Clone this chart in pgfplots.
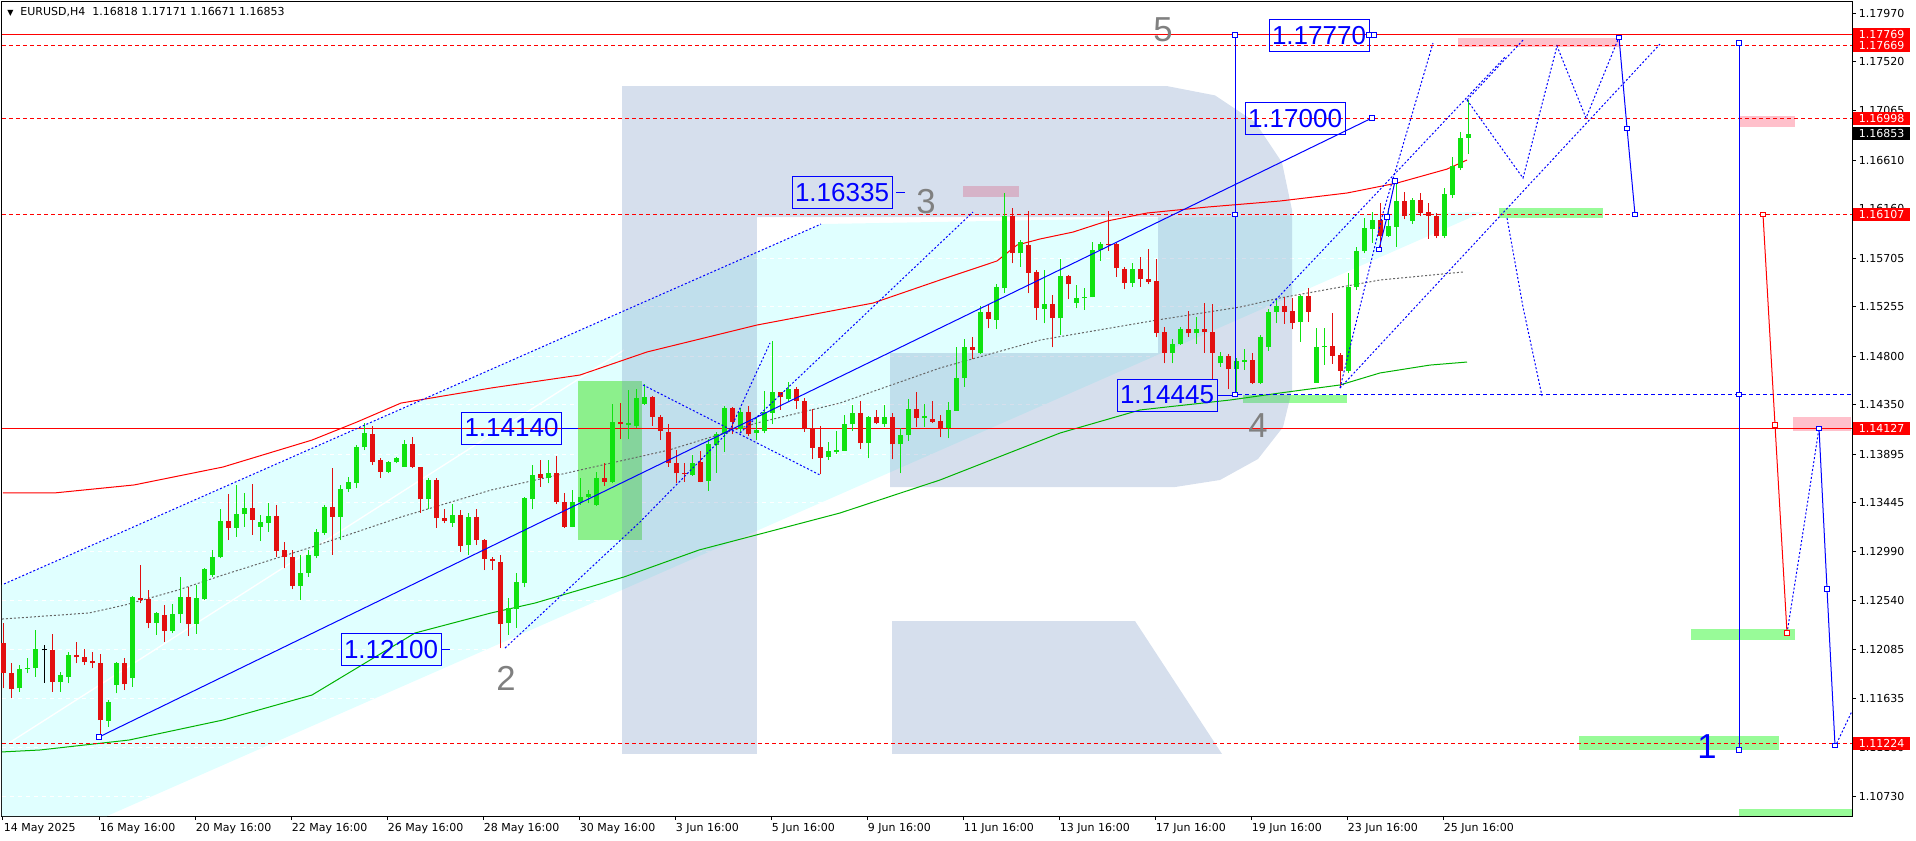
\documentclass[border=0pt]{standalone}
\usepackage{fontspec}
\setmainfont{DejaVu Sans}
\newfontfamily\lib{Liberation Sans}
\usepackage{pgfplots}
\usepackage{pgfplotstable}
\pgfplotsset{compat=1.18}
\definecolor{cyanf}{RGB}{224,255,255}
\definecolor{logoc}{RGB}{120,150,195}
\definecolor{cg}{RGB}{16,226,16}
\definecolor{cr}{RGB}{226,16,16}
\definecolor{pinkc}{RGB}{255,192,203}
\definecolor{pgreen}{RGB}{152,251,152}
\definecolor{lgreen}{RGB}{140,240,140}
\definecolor{wgrey}{RGB}{128,128,128}
\newcommand\tf{\fontsize{8.25}{9.9}\selectfont}

\pgfplotstableread{
i o h l c
2 1.11730 1.11945 1.11699 1.11905
3 1.11905 1.12007 1.11868 1.11915
4 1.11915 1.12269 1.11838 1.12090
7 1.11791 1.11884 1.11699 1.11853
8 1.11838 1.12069 1.11776 1.12038
13 1.11431 1.11622 1.11376 1.11607
14 1.11761 1.11976 1.11684 1.11961
16 1.11822 1.12586 1.11745 1.12577
19 1.12337 1.12438 1.12223 1.12423
21 1.12263 1.12509 1.12238 1.12414
22 1.12414 1.12762 1.12337 1.12571
24 1.12324 1.12685 1.12232 1.12561
25 1.12552 1.12839 1.12546 1.12829
26 1.12777 1.13008 1.12762 1.12940
27 1.12940 1.13384 1.12931 1.13276
29 1.13214 1.13609 1.13131 1.13338
30 1.13338 1.13532 1.13224 1.13393
32 1.13224 1.13331 1.13091 1.13264
33 1.13261 1.13439 1.13177 1.13325
37 1.12675 1.12962 1.12546 1.12799
38 1.12799 1.13008 1.12762 1.12962
39 1.12953 1.13205 1.12931 1.13177
40 1.13168 1.13424 1.13147 1.13408
42 1.13316 1.13609 1.13100 1.13569
43 1.13569 1.13686 1.13547 1.13639
44 1.13630 1.13978 1.13578 1.13963
45 1.13957 1.14178 1.13932 1.14086
48 1.13732 1.13833 1.13716 1.13818
49 1.13818 1.13870 1.13809 1.13861
50 1.13778 1.14024 1.13778 1.13984
53 1.13476 1.13676 1.13384 1.13655
56 1.13261 1.13433 1.13224 1.13331
58 1.13054 1.13347 1.12962 1.13316
63 1.12330 1.12561 1.12223 1.12469
64 1.12466 1.12792 1.12290 1.12709
65 1.12706 1.13501 1.12663 1.13485
66 1.13479 1.13793 1.13384 1.13701
68 1.13670 1.13840 1.13624 1.13716
71 1.13224 1.13562 1.13217 1.13448
72 1.13448 1.13670 1.13424 1.13501
73 1.13501 1.13562 1.13439 1.13525
74 1.13424 1.13732 1.13415 1.13670
76 1.13639 1.14357 1.13624 1.14194
78 1.14163 1.14486 1.14031 1.14178
79 1.14154 1.14493 1.14132 1.14409
80 1.14357 1.14542 1.14348 1.14419
86 1.13701 1.13886 1.13692 1.13809
88 1.13649 1.14031 1.13557 1.13988
89 1.13979 1.14102 1.13723 1.14080
90 1.14080 1.14339 1.13917 1.14323
92 1.14126 1.14317 1.14092 1.14280
94 1.14092 1.14240 1.14025 1.14117
95 1.14111 1.14477 1.14086 1.14280
96 1.14277 1.14939 1.14172 1.14465
98 1.14403 1.14564 1.14379 1.14496
103 1.13864 1.14009 1.13840 1.13923
104 1.13914 1.14108 1.13895 1.13932
105 1.13926 1.14256 1.13926 1.14172
106 1.14169 1.14348 1.14111 1.14271
108 1.13994 1.14246 1.13855 1.14240
110 1.14172 1.14348 1.14148 1.14240
112 1.13985 1.14132 1.13717 1.14071
113 1.14071 1.14400 1.14018 1.14308
115 1.14225 1.14357 1.14148 1.14246
118 1.14139 1.14373 1.14040 1.14302
119 1.14296 1.14881 1.14296 1.14595
120 1.14595 1.14958 1.14518 1.14881
122 1.14832 1.15263 1.14819 1.15211
124 1.15134 1.15466 1.15047 1.15442
125 1.15426 1.16310 1.15386 1.16095
127 1.15750 1.15873 1.15626 1.15857
130 1.15235 1.15596 1.15103 1.15281
132 1.15149 1.15694 1.14995 1.15540
134 1.15294 1.15457 1.15241 1.15340
135 1.15334 1.15426 1.15226 1.15349
136 1.15343 1.15857 1.15343 1.15780
137 1.15780 1.15857 1.15682 1.15836
141 1.15479 1.15657 1.15442 1.15605
146 1.14832 1.14955 1.14733 1.14912
147 1.14909 1.15072 1.14903 1.15047
149 1.15010 1.15158 1.14912 1.15050
152 1.14733 1.14841 1.14702 1.14801
154 1.14678 1.14779 1.14445 1.14755
155 1.14749 1.14863 1.14672 1.14764
157 1.14555 1.14995 1.14542 1.14980
158 1.14887 1.15232 1.14850 1.15211
159 1.15211 1.15318 1.15103 1.15266
162 1.15118 1.15365 1.14933 1.15358
164 1.14555 1.15063 1.14555 1.14881
165 1.14881 1.15057 1.14718 1.14893
168 1.14665 1.15565 1.14641 1.15435
169 1.15435 1.15811 1.15411 1.15774
170 1.15771 1.16073 1.15749 1.15987
171 1.15974 1.16128 1.15848 1.16057
173 1.15910 1.16165 1.15903 1.16005
174 1.15996 1.16412 1.15811 1.16236
176 1.16048 1.16258 1.16020 1.16242
180 1.15913 1.16350 1.15888 1.16298
181 1.16288 1.16636 1.16258 1.16556
182 1.16535 1.16874 1.16519 1.16812
183 1.16818 1.17171 1.16671 1.16853
}\greenc

\pgfplotstableread{
i o h l c
0 1.12146 1.12330 1.11730 1.11875
1 1.11875 1.11961 1.11637 1.11721
6 1.12084 1.12232 1.11699 1.11791
9 1.12038 1.12161 1.11961 1.12016
10 1.12016 1.12093 1.11945 1.11976
11 1.11982 1.12069 1.11915 1.11961
12 1.11961 1.12047 1.11283 1.11437
15 1.11961 1.12007 1.11714 1.11767
17 1.12561 1.12869 1.12515 1.12546
18 1.12552 1.12638 1.12284 1.12337
20 1.12407 1.12500 1.12161 1.12263
23 1.12571 1.12669 1.12213 1.12324
28 1.13276 1.13525 1.13100 1.13214
31 1.13399 1.13618 1.13147 1.13285
34 1.13325 1.13424 1.12946 1.13002
35 1.13008 1.13085 1.12839 1.12940
36 1.12940 1.13008 1.12645 1.12675
41 1.13408 1.13763 1.12962 1.13316
46 1.14080 1.14154 1.13793 1.13824
47 1.13840 1.13855 1.13676 1.13732
51 1.13984 1.14055 1.13763 1.13778
52 1.13772 1.13772 1.13353 1.13476
54 1.13655 1.13670 1.13214 1.13301
55 1.13301 1.13384 1.13254 1.13279
57 1.13331 1.13378 1.12993 1.13048
59 1.13316 1.13384 1.13054 1.13100
60 1.13100 1.13107 1.12823 1.12925
61 1.12922 1.12946 1.12823 1.12909
62 1.12900 1.12962 1.12100 1.12324
67 1.13707 1.13840 1.13593 1.13676
69 1.13716 1.13877 1.13433 1.13448
70 1.13448 1.13532 1.13214 1.13224
75 1.13670 1.13809 1.13599 1.13639
77 1.14194 1.14363 1.14031 1.14172
81 1.14419 1.14431 1.14154 1.14240
82 1.14240 1.14255 1.14024 1.14108
83 1.14101 1.14172 1.13778 1.13809
84 1.13809 1.13932 1.13624 1.13716
85 1.13716 1.13809 1.13639 1.13706
87 1.13824 1.13923 1.13633 1.13640
91 1.14323 1.14333 1.14080 1.14194
93 1.14280 1.14339 1.14062 1.14080
97 1.14465 1.14471 1.14302 1.14425
99 1.14496 1.14511 1.14311 1.14388
100 1.14385 1.14410 1.14102 1.14123
101 1.14139 1.14308 1.13846 1.13954
102 1.13963 1.14157 1.13707 1.13861
107 1.14271 1.14388 1.13938 1.13994
109 1.14240 1.14302 1.14172 1.14179
111 1.14240 1.14277 1.13846 1.13985
114 1.14308 1.14471 1.14142 1.14225
116 1.14216 1.14388 1.14185 1.14194
117 1.14200 1.14256 1.14049 1.14139
121 1.14881 1.14980 1.14773 1.14856
123 1.15204 1.15281 1.15057 1.15140
126 1.16095 1.16165 1.15657 1.15750
128 1.15827 1.16144 1.15380 1.15571
129 1.15580 1.15596 1.15134 1.15241
131 1.15281 1.15365 1.14881 1.15149
133 1.15540 1.15549 1.15325 1.15463
138 1.15836 1.16144 1.15774 1.15826
139 1.15836 1.15842 1.15534 1.15611
140 1.15602 1.15620 1.15417 1.15479
142 1.15605 1.15719 1.15442 1.15509
143 1.15512 1.15787 1.15463 1.15488
144 1.15494 1.15697 1.14973 1.15017
145 1.15020 1.15072 1.14733 1.14832
148 1.15050 1.15220 1.14980 1.15010
150 1.15050 1.15288 1.14832 1.15020
151 1.15020 1.15281 1.14588 1.14832
153 1.14801 1.14816 1.14493 1.14678
156 1.14764 1.14832 1.14542 1.14555
160 1.15266 1.15343 1.15097 1.15211
161 1.15217 1.15334 1.15047 1.15109
163 1.15358 1.15432 1.15118 1.15211
166 1.14893 1.15201 1.14727 1.14801
167 1.14810 1.14826 1.14502 1.14665
172 1.16057 1.16211 1.15796 1.15910
175 1.16236 1.16319 1.16064 1.16094
177 1.16242 1.16304 1.16094 1.16125
178 1.16134 1.16211 1.15882 1.16094
179 1.16098 1.16119 1.15888 1.15910
}\redc

\pgfplotstableread{
i o h l c
5 1.12080 1.12130 1.11782 1.12090
}\dojic

\begin{document}
\begin{tikzpicture}
\begin{axis}[
  set layers,
  at={(0,0)}, anchor=south west,
  scale only axis, width=1387.5pt, height=610.5pt,
  xmin=2, xmax=1852, ymin=1.1055, ymax=1.18072,
  clip=false,
  axis line style={black, line width=0.75pt},
  xtick={3,99,195,291,387,483,579,675,771,867,963,1059,1155,1251,1347,1443},
  xticklabels={14 May 2025,16 May 16:00,20 May 16:00,22 May 16:00,26 May 16:00,28 May 16:00,30 May 16:00,3 Jun 16:00,5 Jun 16:00,9 Jun 16:00,11 Jun 16:00,13 Jun 16:00,17 Jun 16:00,19 Jun 16:00,23 Jun 16:00,25 Jun 16:00},
  ytick={1.17970,1.17520,1.17065,1.16610,1.16160,1.15705,1.15255,1.14800,1.14350,1.13895,1.13445,1.12990,1.12540,1.12085,1.11635,1.11180,1.10730},
  yticklabels={1.17970,1.17520,1.17065,1.16610,1.16160,1.15705,1.15255,1.14800,1.14350,1.13895,1.13445,1.12990,1.12540,1.12085,1.11635,1.11180,1.10730},
  xtick pos=left, ytick pos=right, yticklabel pos=right,
  tick align=outside, major tick length=3pt,
  every tick/.style={black, line width=0.75pt},
  xticklabel style={anchor=north west, inner sep=0pt, font=\tf, xshift=0.5pt, yshift=-2pt},
  yticklabel style={anchor=west, inner sep=0pt, font=\tf, xshift=2pt},
  scaled y ticks=false,
]
% channel fill
\addplot[draw=none, fill=cyanf] coordinates {(2,1.12685) (821,1.16020) (1483,1.16131) (107,1.1055) (2,1.1055)};
% white grid lines
\pgfplotsinvokeforeach{1.17970,1.17520,1.17065,1.16610,1.16160,1.15705,1.15255,1.14800,1.14350,1.13895,1.13445,1.12990,1.12540,1.12085,1.11635,1.11180,1.10730}{
  \addplot[white, line width=0.75pt, dash pattern=on 3pt off 3pt] coordinates {(2,#1) (1852,#1)};
}
\addplot[white, line width=1pt] coordinates {(9,1.11225) (624,1.14856)};
% rectangles
\addplot[draw=none, fill=lgreen] coordinates {(578,1.14570) (642,1.14570) (642,1.13100) (578,1.13100)};
\addplot[draw=none, fill=pinkc] coordinates {(963,1.16371) (1019,1.16371) (1019,1.16270) (963,1.16270)};
\addplot[draw=none, fill=pinkc] coordinates {(1458,1.17739) (1619,1.17739) (1619,1.17656) (1458,1.17656)};
\addplot[draw=none, fill=pinkc] coordinates {(1739,1.17018) (1795,1.17018) (1795,1.16917) (1739,1.16917)};
\addplot[draw=none, fill=pinkc] coordinates {(1793,1.14237) (1851,1.14237) (1851,1.14108) (1793,1.14108)};
\addplot[draw=none, fill=pgreen] coordinates {(1499,1.16168) (1603,1.16168) (1603,1.16076) (1499,1.16076)};
\addplot[draw=none, fill=pgreen] coordinates {(1243,1.14440) (1347,1.14440) (1347,1.14366) (1243,1.14366)};
\addplot[draw=none, fill=pgreen] coordinates {(1691,1.12278) (1795,1.12278) (1795,1.12176) (1691,1.12176)};
\addplot[draw=none, fill=pgreen] coordinates {(1579,1.11289) (1779,1.11289) (1779,1.11160) (1579,1.11160)};
\addplot[draw=none, fill=pgreen] coordinates {(1739,1.10615) (1852,1.10615) (1852,1.1055) (1739,1.1055)};
% logo watermark
\addplot[draw=none, fill=logoc, fill opacity=0.3] coordinates {(622,1.17295) (757,1.17295) (757,1.11123) (622,1.11123)};
\addplot[draw=none, fill=logoc, fill opacity=0.3] coordinates {(757,1.17295) (1167,1.17295) (1215,1.17209) (1255,1.16963) (1282,1.16589) (1292,1.16150) (1292,1.14486) (1283,1.14144) (1258,1.13849) (1220,1.13655) (1175,1.13590) (890,1.13590) (890,1.14828) (1158,1.14828) (1158,1.16085) (757,1.16085)};
\addplot[draw=none, fill=logoc, fill opacity=0.3] coordinates {(892,1.12352) (1135,1.12352) (1222,1.11123) (892,1.11123)};
% moving averages
\addplot[red, line width=0.75pt] coordinates {(3,1.13535) (54,1.13535) (134,1.13609) (223,1.13775) (312,1.14024) (357,1.14191) (401,1.14366) (491,1.14505) (580,1.14625) (647,1.14838) (757,1.15087) (873,1.15290) (940,1.15503) (997,1.15679) (1017,1.15826) (1040,1.15882) (1073,1.15946) (1107,1.16048) (1147,1.16122) (1207,1.16177) (1280,1.16233) (1347,1.16307) (1397,1.16399) (1447,1.16528) (1467,1.16612)};
\addplot[black!60, line width=0.75pt, dash pattern=on 1.5pt off 1.5pt] coordinates {(2,1.12370) (89,1.12426) (125,1.12500) (178,1.12638) (223,1.12777) (312,1.13036) (401,1.13313) (491,1.13562) (580,1.13747) (669,1.13932) (757,1.14182) (840,1.14366) (940,1.14690) (1040,1.14948) (1157,1.15133) (1240,1.15253) (1280,1.15337) (1380,1.15503) (1463,1.15577)};
\addplot[green!70!black, line width=0.75pt] coordinates {(2,1.11142) (40,1.11160) (129,1.11252) (223,1.11437) (312,1.11668) (415,1.12241) (491,1.12426) (535,1.12518) (624,1.12759) (699,1.13008) (737,1.13100) (840,1.13350) (940,1.13655) (1060,1.14089) (1140,1.14302) (1230,1.14394) (1280,1.14459) (1340,1.14533) (1380,1.14644) (1430,1.14717) (1467,1.14745)};
% horizontal levels
\addplot[red, line width=0.75pt] coordinates {(2,1.17769) (1852,1.17769)};
\addplot[red, line width=0.75pt, dash pattern=on 3pt off 2.25pt] coordinates {(2,1.17669) (1852,1.17669)};
\addplot[red, line width=0.75pt, dash pattern=on 3pt off 2.25pt] coordinates {(2,1.16998) (1852,1.16998)};
\addplot[red, line width=0.75pt, dash pattern=on 3pt off 2.25pt] coordinates {(2,1.16107) (1852,1.16107)};
\addplot[red, line width=0.75pt] coordinates {(2,1.14127) (1852,1.14127)};
\addplot[red, line width=0.75pt, dash pattern=on 3pt off 2.25pt] coordinates {(2,1.11224) (1852,1.11224)};
\addplot[blue, line width=0.75pt, dash pattern=on 3pt off 2.25pt] coordinates {(1238,1.14445) (1852,1.14445)};
% candles: wicks and bodies
\pgfplotsset{cndl/.style={draw=none, mark=none, error bars/.cd, y dir=plus, y explicit, error mark=none}}
\addplot[cndl, error bar style={draw=cg, line width=0.75pt}] table[x expr=8*\thisrow{i}+4, y=l, y error expr=\thisrow{h}-\thisrow{l}] {\greenc};
\addplot[cndl, error bar style={draw=cg, line width=3.75pt}] table[x expr=8*\thisrow{i}+4, y=o, y error expr=\thisrow{c}-\thisrow{o}] {\greenc};
\addplot[cndl, error bar style={draw=cr, line width=0.75pt}] table[x expr=8*\thisrow{i}+4, y=l, y error expr=\thisrow{h}-\thisrow{l}] {\redc};
\addplot[cndl, error bar style={draw=cr, line width=3.75pt}] table[x expr=8*\thisrow{i}+4, y=c, y error expr=\thisrow{o}-\thisrow{c}] {\redc};
\addplot[cndl, error bar style={draw=black, line width=0.75pt}] table[x expr=8*\thisrow{i}+4, y=l, y error expr=\thisrow{h}-\thisrow{l}] {\dojic};
\addplot[cndl, error bar style={draw=black, line width=3.75pt}] table[x expr=8*\thisrow{i}+4, y=o, y error expr=\thisrow{c}-\thisrow{o}] {\dojic};
% dotted forecast / channel lines
\pgfplotsset{dotb/.style={blue, line width=0.75pt, dash pattern=on 1.5pt off 1.5pt}}
\addplot[dotb] coordinates {(4,1.12694) (821,1.16020)};
\addplot[dotb] coordinates {(505,1.12102) (640,1.13267) (730,1.14117) (770,1.14921)};
\addplot[dotb] coordinates {(643,1.14533) (820,1.13701)};
\addplot[dotb] coordinates {(740,1.14089) (973,1.16131)};
\addplot[dotb] coordinates {(1340,1.14505) (1383,1.16122) (1433,1.17693)};
\addplot[dotb] coordinates {(1270,1.15263) (1505,1.17563)};
\addplot[dotb] coordinates {(1340,1.14505) (1660,1.17683)};
\addplot[dotb] coordinates {(1467,1.17166) (1523,1.16445) (1557,1.17665) (1586,1.17000) (1619,1.17748)};
\addplot[dotb] coordinates {(1467,1.17166) (1523,1.17720)};
\addplot[dotb] coordinates {(1507,1.16076) (1523,1.15253) (1542,1.14431)};
\addplot[dotb] coordinates {(1787,1.12241) (1803,1.13174) (1819,1.14135)};
\addplot[dotb] coordinates {(1835,1.11188) (1852,1.11520)};
% solid wave lines
\pgfplotsset{sqm/.style={mark=square*, mark size=1.6pt, mark options={solid, fill=white, draw=blue, line width=0.6pt}}}
\addplot[blue, line width=0.75pt, sqm] coordinates {(99,1.11280) (1372,1.17000)};
\addplot[blue, line width=0.75pt, sqm] coordinates {(1235,1.17769) (1235,1.16107) (1235,1.14445)};
\addplot[blue, line width=0.75pt, sqm] coordinates {(1739,1.17693) (1739,1.14445) (1739,1.11160)};
\addplot[blue, line width=0.75pt, sqm] coordinates {(1379,1.15789) (1387,1.16085) (1395,1.16418)};
\addplot[blue, line width=0.75pt, sqm] coordinates {(1619,1.17745) (1627,1.16907) (1635,1.16107)};
\addplot[blue, line width=0.75pt, sqm] coordinates {(1819,1.14135) (1827,1.12648) (1835,1.11200)};
\addplot[red, line width=0.75pt, mark=square*, mark size=1.6pt, mark options={fill=white, draw=red, line width=0.6pt}] coordinates {(1763,1.16107) (1775,1.14163) (1787,1.12241)};
% connectors of the labels
\addplot[blue, line width=0.75pt, sqm] coordinates {(1369,1.17769) (1374,1.17769)};
\addplot[blue, line width=0.75pt] coordinates {(896,1.16311) (905,1.16311)};
\addplot[blue, line width=0.75pt] coordinates {(561,1.14135) (578,1.14135)};
\addplot[blue, line width=0.75pt] coordinates {(441,1.12089) (450,1.12089)};
\addplot[blue, line width=0.75pt] coordinates {(1217,1.14440) (1235,1.14440)};
% level labels
\tikzset{lvl/.style={draw=blue, line width=0.75pt, text=blue, font=\lib\fontsize{19.5}{20}\selectfont, minimum width=75pt, minimum height=24pt, inner sep=0pt}}
\node[lvl] at (axis cs:1319,1.17762) {1.17770};
\node[lvl] at (axis cs:1295,1.16995) {1.17000};
\node[lvl] at (axis cs:842,1.16311) {1.16335};
\node[lvl] at (axis cs:511.5,1.14135) {1.14140};
\node[lvl] at (axis cs:391,1.12089) {1.12100};
\node[lvl] at (axis cs:1167,1.14440) {1.14445};
% wave numbers
\tikzset{wv/.style={text=wgrey, font=\lib\fontsize{26}{26}\selectfont, inner sep=0pt}}
\node[wv] at (axis cs:1163,1.17817) {5};
\node[wv] at (axis cs:926,1.16224) {3};
\node[wv] at (axis cs:506,1.11825) {2};
\node[wv] at (axis cs:1258,1.14154) {4};
\node[wv, text=blue] at (axis cs:1707,1.11196) {1};
% price boxes on the right
\tikzset{pb/.style={fill=red, text=white, font=\tf, minimum width=42.75pt, minimum height=9.75pt, inner sep=0pt}}
\node[pb] at (axis cs:1881.5,1.17769) {1.17769};
\node[pb] at (axis cs:1881.5,1.17669) {1.17669};
\node[pb] at (axis cs:1881.5,1.16998) {1.16998};
\node[pb, fill=black] at (axis cs:1881.5,1.16853) {1.16853};
\node[pb] at (axis cs:1881.5,1.16107) {1.16107};
\node[pb] at (axis cs:1881.5,1.14127) {1.14127};
\node[pb] at (axis cs:1881.5,1.11224) {1.11224};
% header
\node[anchor=west, font=\tf, inner sep=0pt] at (axis cs:7,1.17979) {{\fontsize{6}{6}\selectfont ▼}\ \ EURUSD,H4\ \ 1.16818 1.17171 1.16671 1.16853};
\end{axis}
\pgfresetboundingbox
\path (-1.5pt,-18pt) rectangle (1435.5pt,612pt);
\end{tikzpicture}
\end{document}
